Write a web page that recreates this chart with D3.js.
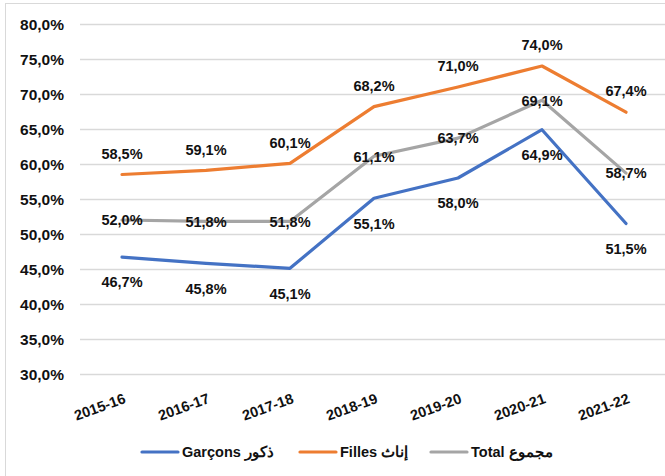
<!DOCTYPE html>
<html><head><meta charset="utf-8">
<script src="https://cdn.jsdelivr.net/npm/d3@7"></script>
<style>
html,body{margin:0;padding:0;background:#fff;}
svg{display:block;font-family:"Liberation Sans",Arial,sans-serif;font-weight:bold;}
</style></head>
<body>
<svg id="c" width="665" height="476"></svg>
<script>
const categories = ["2015-16","2016-17","2017-18","2018-19","2019-20","2020-21","2021-22"];
const garcons = [46.7,45.8,45.1,55.1,58.0,64.9,51.5];
const filles  = [58.5,59.1,60.1,68.2,71.0,74.0,67.4];
const total   = [52.0,51.8,51.8,61.1,63.7,69.1,58.7];
const yTicks  = [30,35,40,45,50,55,60,65,70,75,80];
const seriesNames = ["Garçons ذكور","Filles إناث","Total مجموع"];

const fmt = v => d3.format(".1f")(v).replace(".", ",") + "%";
const svg = d3.select("#c");

// chart border
svg.append("rect").attr("x",5.5).attr("y",3.5).attr("width",700).attr("height",500)
  .attr("fill","none").attr("stroke","#d9d9d9").attr("stroke-width",1);

const x = d3.scaleBand().domain(categories).range([80,668]).padding(0);
const y = d3.scaleLinear().domain([30,80]).range([374,24]);
const cx = c => x(c) + x.bandwidth()/2;

// gridlines
svg.append("g").selectAll("line").data(yTicks).join("line")
  .attr("x1",80).attr("x2",665).attr("y1",d=>Math.round(y(d))+0.5).attr("y2",d=>Math.round(y(d))+0.5)
  .attr("stroke","#d9d9d9").attr("stroke-width",1.3);

// y axis labels
const yAxis = d3.axisLeft(y).tickValues(yTicks).tickFormat(fmt).tickSize(0).tickPadding(0);
const ya = svg.append("g").attr("transform","translate(64,0)").call(yAxis);
ya.select(".domain").remove();
ya.selectAll("text").attr("font-size",15.5).attr("font-weight","bold").attr("fill","#111")
  .attr("font-family","Liberation Sans, Arial, sans-serif").attr("dy","0.36em");

// x axis labels
const xAxis = d3.axisBottom(x).tickSize(0).tickPadding(0);
const xa = svg.append("g").attr("transform","translate(0,393)").call(xAxis);
xa.select(".domain").remove();
xa.selectAll("text").attr("font-size",14.5).attr("font-weight","bold").attr("fill","#111")
  .attr("font-family","Liberation Sans, Arial, sans-serif")
  .attr("text-anchor","end").attr("dy","0.7em")
  .attr("transform","translate(1,0) rotate(-20)");

const series = [
  {name:seriesNames[0], values:garcons, color:"#4472C4", dy:25},
  {name:seriesNames[1], values:filles,  color:"#ED7D31", dy:-21},
  {name:seriesNames[2], values:total,   color:"#A5A5A5", dy:0}
];
const line = d3.line().x((d,i)=>cx(categories[i])).y(d=>y(d));

series.forEach(s=>{
  svg.append("path").datum(s.values).attr("d",line).attr("fill","none")
    .attr("stroke",s.color).attr("stroke-width",3.2).attr("stroke-linecap","round").attr("stroke-linejoin","round");
});
// labels
series.forEach(s=>{
  svg.append("g").selectAll("text").data(s.values).join("text")
    .attr("x",(d,i)=>cx(categories[i])).attr("y",d=>y(d)+s.dy)
    .attr("dy","0.36em").attr("text-anchor","middle").attr("font-size",14.5)
    .attr("fill","#111").text(fmt);
});

// legend
const legX = [142,300,431];
const lg = svg.append("g");
series.forEach((s,i)=>{
  lg.append("line").attr("x1",legX[i]).attr("x2",legX[i]+36).attr("y1",452).attr("y2",452)
    .attr("stroke",s.color).attr("stroke-width",3.2).attr("stroke-linecap","round");
  lg.append("text").attr("x",legX[i]+40).attr("y",452).attr("dy","0.36em")
    .attr("font-size",14.5).attr("fill","#111").attr("direction","ltr")
    .style("unicode-bidi","plaintext").text(s.name);
});
</script>
</body></html>
